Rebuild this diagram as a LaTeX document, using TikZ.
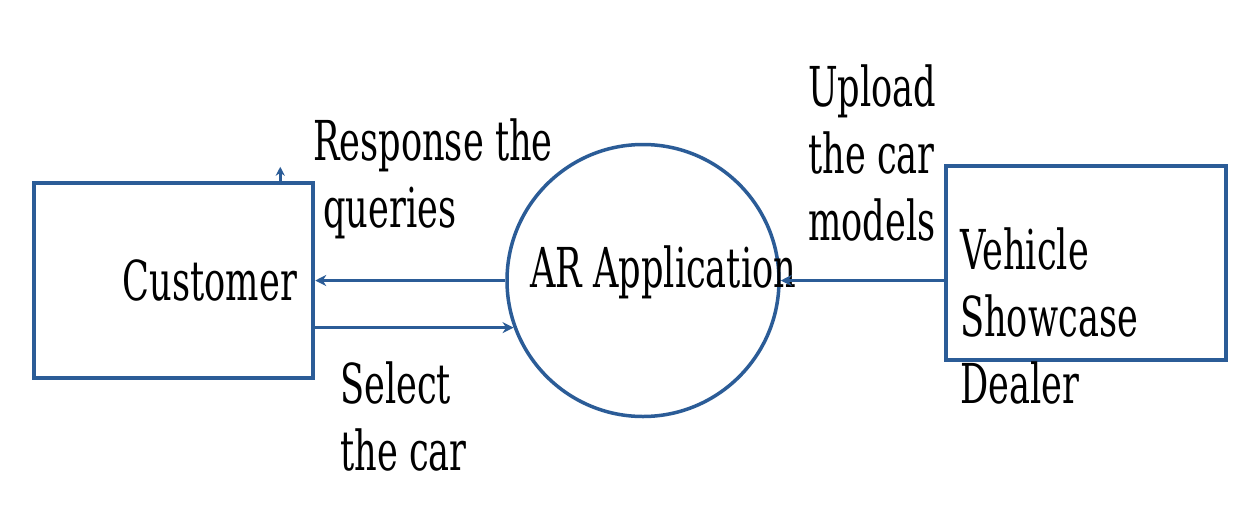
\documentclass[tikz,border=0pt]{standalone}
\usepackage{fontspec}
\setmainfont{DejaVu Serif}[FakeStretch=0.64]
\usetikzlibrary{arrows.meta}
\definecolor{dfdblue}{HTML}{2B5C97}
\begin{document}
\begin{tikzpicture}[x=1pt,y=-1pt,
  lbl/.style={font=\fontsize{55}{67}\selectfont, inner sep=0pt, anchor=base west, align=left, text=black},
  entity/.style={draw=dfdblue, line width=4.5pt, inner sep=0pt},
  process/.style={draw=dfdblue, line width=3.5pt, circle, inner sep=0pt, minimum size=272pt},
  flow/.style={draw=dfdblue, line width=3.5pt, -{Stealth[length=11pt,width=11pt]}},
]
\fill[white] (0,0) rectangle (1251,512);
\useasboundingbox (0,0) rectangle (1251,512);
% entities
\node[entity, minimum width=279pt, minimum height=195pt, text width=247pt, align=right,
      font=\fontsize{55}{67}\selectfont] (cust) at (173.5,280.5) {Customer};
\node[entity, minimum width=280pt, minimum height=194pt] (vsd) at (1086,263) {};
\node[lbl] (vsdtext) at (960,403) {Vehicle\\Showcase\\Dealer};
% process
\node[process] (app) at (643,280.5) {};
\node[lbl] (apptext) at (530,287) {AR Application};
% flows
\draw[flow] (app.west) -- (app.west -| cust.east);
\draw[flow] (cust.east |- app.200) -- (app.200);
\draw[flow] (vsd.west |- app.east) -- (app.east);
\coordinate (stub) at ([xshift=-35pt]cust.north east);
\draw[flow, -{Stealth[length=9pt,width=9pt]}] (stub) -- ++(0,-14);
% flow labels
\node[lbl] (resp) at (313,227) {Response the\\\hspace*{10pt}queries};
\node[lbl] (sel) at (340,470) {Select\\the car};
\node[lbl] (upl) at (808,240) {Upload\\the car\\models};
\end{tikzpicture}
\end{document}
